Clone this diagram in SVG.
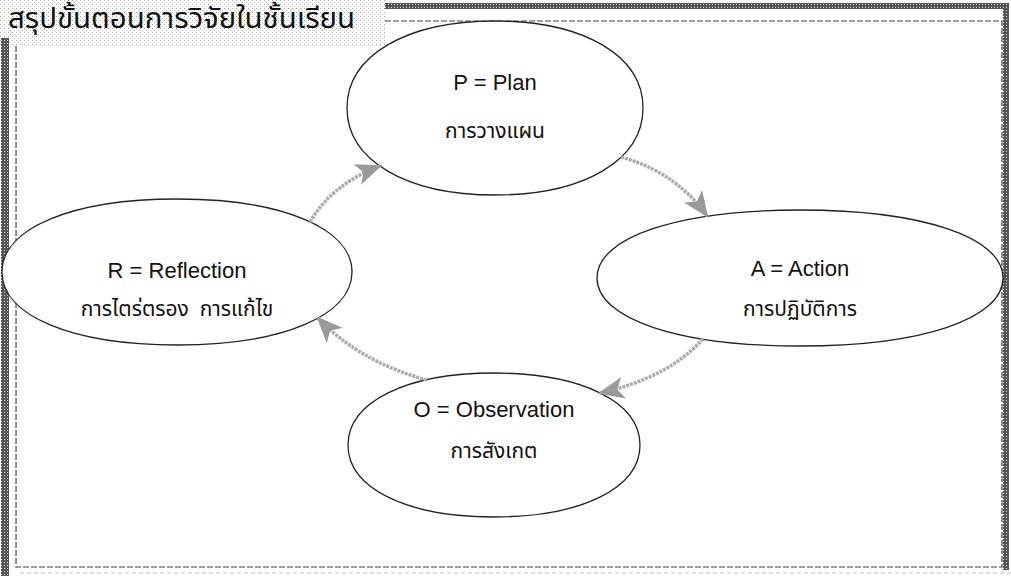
<svg xmlns="http://www.w3.org/2000/svg" width="1011" height="576" viewBox="0 0 1011 576">
<defs>
<pattern id="dots" width="4" height="4" patternUnits="userSpaceOnUse">
<rect width="4" height="4" fill="#ffffff"/>
<rect x="0" y="0" width="1" height="1" fill="#a5a5a5"/>
<rect x="2" y="2" width="1" height="1" fill="#c4c4c4"/>
</pattern>
<pattern id="dark" width="3" height="3" patternUnits="userSpaceOnUse">
<rect width="3" height="3" fill="#555"/>
<rect x="1" y="1" width="1" height="1" fill="#ddd"/>
</pattern>
<marker id="ahb" viewBox="0 0 12 10" refX="11" refY="5" markerWidth="27" markerHeight="22" markerUnits="userSpaceOnUse" orient="auto">
<path d="M0,0 L12,5 L0,10 L3,5 Z" fill="#9a9a9a"/>
</marker>
</defs>
<style>
.ell{fill:#fff;stroke:#222;stroke-width:1.3}
.en{font-family:"Liberation Sans",Arial,sans-serif;font-size:22px;fill:#111;text-anchor:middle}
.th{font-family:"Noto Sans Thai","Noto Sans","DejaVu Sans",sans-serif;font-size:21px;fill:#111;text-anchor:middle}
.title{font-family:"Noto Sans Thai","Noto Sans","DejaVu Sans",sans-serif;font-size:28px;fill:#111}
.conn{fill:none;stroke:#ababab;stroke-width:3.5;stroke-dasharray:3 1}
.frame{fill:none;stroke:#444;stroke-width:1.2;stroke-dasharray:6 2}
</style>
<rect width="1011" height="576" fill="#fff"/>
<g id="frame">
<rect x="0" y="0" width="385" height="46" fill="url(#dots)"/>
<rect x="385" y="3" width="624" height="6" fill="url(#dark)"/>
<rect x="1003" y="3" width="6" height="567" fill="url(#dark)"/>
<rect x="1" y="38" width="8" height="538" fill="url(#dark)"/>
<path class="frame" d="M385,21 H1002 V567 H16 V46"/>
<line x1="20" y1="573" x2="1011" y2="573" stroke="#bbb" stroke-width="1" stroke-dasharray="4 3"/>
</g>
<g id="title">
<text class="title" x="8" y="28" textLength="347" lengthAdjust="spacingAndGlyphs">สรุปขั้นตอนการวิจัยในชั้นเรียน</text>
</g>
<g id="node-P">
<path class="ell" d="M643,108 C643,160.2 583.8,195 495,195 C406.2,195 347,160.2 347,108 C347,55.8 406.2,21 495,21 C583.8,21 643,55.8 643,108 Z"/>
<text class="en" x="495" y="90">P = Plan</text>
<text class="th" x="495" y="138">การวางแผน</text>
</g>
<g id="node-A">
<path class="ell" d="M1003,278 C1003,318.8 921.8,346 800,346 C678.2,346 597,318.8 597,278 C597,237.2 678.2,210 800,210 C921.8,210 1003,237.2 1003,278 Z"/>
<text class="en" x="800" y="276">A = Action</text>
<text class="th" x="800" y="316">การปฏิบัติการ</text>
</g>
<g id="node-O">
<path class="ell" d="M640,445 C640,488.2 581.6,517 494,517 C406.4,517 348,488.2 348,445 C348,401.8 406.4,373 494,373 C581.6,373 640,401.8 640,445 Z"/>
<text class="en" x="494" y="417">O = Observation</text>
<text class="th" x="494" y="458">การสังเกต</text>
</g>
<g id="node-R">
<path class="ell" d="M352,272 C352,315.8 282,345 177,345 C72,345 2,315.8 2,272 C2,228.2 72,199 177,199 C282,199 352,228.2 352,272 Z"/>
<text class="en" x="177" y="278">R = Reflection</text>
<text class="th" x="177" y="316" xml:space="preserve">การไตร่ตรอง  การแก้ไข</text>
</g>
<g id="connectors">
<path class="conn" d="M310,222 Q332,184 380,166" marker-end="url(#ahb)"/>
<path class="conn" d="M621,157 Q676,172 707,216" marker-end="url(#ahb)"/>
<path class="conn" d="M703,339 Q668,378 600,393" marker-end="url(#ahb)"/>
<path class="conn" d="M427,380 Q360,362 318,318" marker-end="url(#ahb)"/>
</g>
</svg>
